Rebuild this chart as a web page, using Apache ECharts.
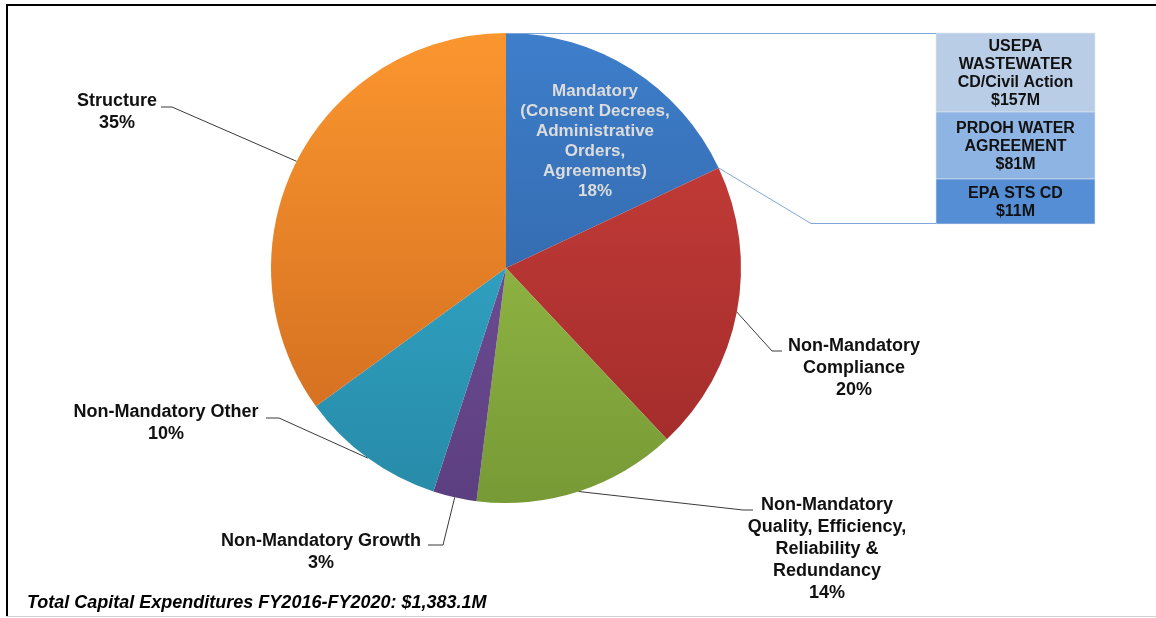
<!DOCTYPE html>
<html><head><meta charset="utf-8">
<script src="https://cdn.jsdelivr.net/npm/echarts@6/dist/echarts.min.js"></script>
<style>html,body{margin:0;padding:0;background:#fff}#c{width:1156px;height:618px}</style>
</head><body><div id="c"></div>
<script>
// ---- data ----
const categories = [
  'Mandatory\n(Consent Decrees,\nAdministrative\nOrders,\nAgreements)',
  'Non-Mandatory\nCompliance',
  'Non-Mandatory\nQuality, Efficiency,\nReliability &\nRedundancy',
  'Non-Mandatory Growth',
  'Non-Mandatory Other',
  'Structure'
];
const shares = [18, 20, 14, 3, 10, 35];
const breakdownNames = ['USEPA\nWASTEWATER\nCD/Civil Action', 'PRDOH WATER\nAGREEMENT', 'EPA STS CD'];
const breakdownValues = [157, 81, 11];
const totalNote = 'Total Capital Expenditures FY2016-FY2020: $1,383.1M';

// ---- styles / layout ----
const gradStops = [
  ['#3e7ecb', '#2c5c98'],
  ['#cd403c', '#9e2a29'],
  ['#a2c94c', '#779a36'],
  ['#7b57a3', '#5c3f80'],
  ['#38b3d5', '#278aa8'],
  ['#fb962f', '#cc681e']
];
const CX = 506, CY = 268, R = 235;
const PIE_TOP = CY - R, PIE_BOT = CY + R;
const labelPos = [
  {x: 595, y: 141},
  {x: 854, y: 368, turn: [772, 351], end: [782, 351]},
  {x: 827, y: 549, turn: [743, 510], end: [753, 510]},
  {x: 321, y: 552, turn: [443, 545], end: [428, 545]},
  {x: 166, y: 423, turn: [279, 418], end: [266, 418]},
  {x: 117, y: 112, turn: [172, 107], end: [161, 107]}
];
const boxX = 936, boxW = 159;
const boxY = [33, 112, 179, 224];
const boxColors = ['#b9cde6', '#8eb4e3', '#568ed5'];
const connColor = '#7fa7da';

const chart = echarts.init(document.getElementById('c'), null, {renderer: 'canvas'});

const total = shares.reduce((a, b) => a + b, 0);
const ang = 2 * Math.PI * shares[0] / total;
const edge = [CX + R * Math.sin(ang), CY - R * Math.cos(ang)];

const pieData = categories.map((n, i) => {
  const item = {
    name: n, value: shares[i],
    itemStyle: {
      color: {type: 'linear', global: true, x: 0, y: PIE_TOP, x2: 0, y2: PIE_BOT,
        colorStops: [{offset: 0, color: gradStops[i][0]}, {offset: 1, color: gradStops[i][1]}]}
    }
  };
  if (i === 0) {
    item.label = {position: 'inside', color: '#dcdcdc', fontSize: 17, lineHeight: 20, fontFamily: 'Liberation Sans, Arial, sans-serif', fontWeight: 'bold'};
    item.labelLine = {show: false};
  }
  return item;
});

const graphic = [
  // frame
  {type: 'rect', shape: {x: 6, y: 4, width: 1150, height: 2}, style: {fill: '#000'}, silent: true},
  {type: 'rect', shape: {x: 6, y: 4, width: 2, height: 613}, style: {fill: '#000'}, silent: true},
  {type: 'rect', shape: {x: 6, y: 616, width: 1150, height: 1}, style: {fill: '#d0d0d0'}, silent: true},
  // connectors
  {type: 'polyline', shape: {points: [[CX, PIE_TOP + 0.5], [boxX, PIE_TOP + 0.5]]}, style: {stroke: connColor, lineWidth: 1, fill: null}, silent: true, z: 10},
  {type: 'polyline', shape: {points: [edge, [811, boxY[3] - 0.5], [boxX, boxY[3] - 0.5]]}, style: {stroke: connColor, lineWidth: 1, fill: null}, silent: true, z: 10},
  // note
  {type: 'text', x: 27, y: 603, style: {text: totalNote, verticalAlign: 'middle', font: 'italic bold 18px "Liberation Sans", Arial, sans-serif', fill: '#000'}, silent: true}
];
breakdownNames.forEach((n, i) => {
  graphic.push({type: 'rect', shape: {x: boxX, y: boxY[i], width: boxW, height: boxY[i + 1] - boxY[i]},
    style: {fill: boxColors[i], stroke: '#dfe8f3', lineWidth: 0.6}, silent: true});
  graphic.push({type: 'text', x: boxX + boxW / 2, y: (boxY[i] + boxY[i + 1]) / 2 + 1,
    style: {text: n + '\n$' + breakdownValues[i] + 'M', align: 'center', verticalAlign: 'middle',
      font: 'bold 16px "Liberation Sans", Arial, sans-serif', lineHeight: 18, fill: '#111'}, silent: true});
});

chart.setOption({
  animation: false,
  backgroundColor: '#fff',
  graphic: graphic,
  series: [{
    type: 'pie',
    center: [CX, CY],
    radius: [0, R],
    startAngle: 90,
    clockwise: true,
    avoidLabelOverlap: false,
    itemStyle: {borderWidth: 0},
    label: {
      show: true, position: 'outside',
      formatter: p => p.name + '\n' + p.percent.toFixed(0) + '%',
      fontFamily: 'Liberation Sans, Arial, sans-serif', fontWeight: 'bold', fontSize: 18, lineHeight: 22,
      color: '#111', align: 'center'
    },
    labelLine: {show: true, smooth: false, length: 20, length2: 10, lineStyle: {color: '#3a3a3a', width: 1}},
    labelLayout: function (params) {
      const p = labelPos[params.dataIndex];
      const out = {x: p.x, y: p.y, align: 'center', verticalAlign: 'middle'};
      if (p.end && params.labelLinePoints) {
        out.labelLinePoints = [params.labelLinePoints[0], p.turn, p.end];
      }
      return out;
    },
    emphasis: {disabled: true},
    data: pieData
  }]
});
</script></body></html>
